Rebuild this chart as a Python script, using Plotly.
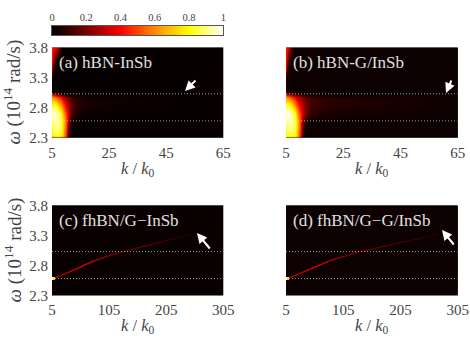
import plotly.graph_objects as go
from plotly.colors import sample_colorscale

HOT = [[0, "#000000"], [0.2, "#7a0000"], [0.4, "#ff0000"], [0.6, "#ff8c00"],
       [0.8, "#ffff00"], [1, "#ffffff"]]
SERIF = "Liberation Serif"
TEXT = "#444444"

cbar_values = [0, 0.05, 0.1, 0.15, 0.2, 0.25, 0.3, 0.35, 0.4, 0.45, 0.5, 0.55, 0.6, 0.65,
               0.7, 0.75, 0.8, 0.85, 0.9, 0.95, 1]
cbar_ticks = [0, 0.2, 0.4, 0.6, 0.8, 1]

k_top = [5, 5.5, 6, 7, 8, 9, 10, 11, 12, 14, 17, 25, 40, 52, 65]
w_top = [2.3, 2.36, 2.45, 2.55, 2.62, 2.7, 2.8, 2.9, 2.97, 3.0, 3.05, 3.3, 3.45, 3.6, 3.8]

# rows run from the lowest frequency up
z_a = [
    [.62, .66, .68, .68, .66, .58, .36, .03, .01, .01, .01, .01, .01, .01, .01],
    [.78, .82, .84, .84, .80, .70, .46, .05, .01, .01, .01, .01, .01, .01, .01],
    [.84, .88, .90, .90, .84, .72, .50, .08, .02, .01, .01, .01, .01, .01, .01],
    [.86, .90, .92, .92, .84, .72, .52, .14, .03, .01, .01, .01, .01, .01, .01],
    [.90, .94, .96, .94, .84, .72, .52, .24, .06, .02, .01, .01, .01, .01, .01],
    [.94, .96, .97, .92, .80, .66, .48, .27, .10, .04, .015, .012, .01, .01, .01],
    [.86, .88, .88, .78, .68, .56, .40, .25, .13, .06, .035, .02, .015, .01, .01],
    [.72, .72, .72, .62, .54, .44, .32, .20, .12, .06, .04, .03, .02, .012, .01],
    [.62, .60, .58, .50, .42, .32, .24, .15, .09, .05, .03, .022, .015, .01, .01],
    [.50, .46, .42, .32, .22, .14, .09, .05, .03, .02, .015, .012, .01, .01, .01],
    [.03, .025, .02, .015, .012, .01, .01, .01, .01, .01, .01, .01, .01, .01, .01],
    [.02, .015, .012, .01, .01, .01, .01, .01, .01, .01, .01, .01, .01, .01, .01],
    [.28, .06, .01, .01, .01, .01, .01, .01, .01, .01, .01, .01, .01, .01, .01],
    [.40, .30, .10, .01, .01, .01, .01, .01, .01, .01, .01, .01, .01, .01, .01],
    [.44, .42, .38, .28, .02, .01, .01, .01, .01, .01, .01, .01, .01, .01, .01],
]
z_b = [
    [.66, .70, .72, .72, .70, .62, .38, .04, .02, .02, .02, .02, .02, .02, .02],
    [.80, .84, .85, .85, .80, .70, .44, .06, .02, .02, .02, .02, .02, .02, .02],
    [.86, .88, .90, .90, .84, .72, .48, .09, .02, .02, .02, .02, .02, .02, .02],
    [.88, .92, .93, .92, .84, .72, .50, .15, .04, .02, .02, .02, .02, .02, .02],
    [.92, .96, .97, .94, .84, .70, .50, .25, .09, .04, .03, .025, .02, .02, .02],
    [.96, .98, .98, .92, .80, .64, .48, .30, .15, .07, .05, .035, .03, .02, .02],
    [.88, .88, .88, .78, .66, .54, .40, .28, .18, .10, .07, .05, .04, .03, .02],
    [.74, .74, .72, .62, .52, .42, .33, .24, .17, .11, .08, .06, .045, .035, .02],
    [.64, .60, .58, .48, .40, .32, .26, .20, .14, .09, .07, .05, .04, .03, .02],
    [.52, .46, .42, .32, .24, .18, .13, .09, .06, .04, .03, .025, .02, .02, .02],
    [.05, .045, .04, .03, .025, .02, .02, .02, .02, .02, .02, .02, .02, .02, .02],
    [.04, .03, .025, .02, .02, .02, .02, .02, .02, .02, .02, .02, .02, .02, .02],
    [.34, .10, .02, .02, .02, .02, .02, .02, .02, .02, .02, .02, .02, .02, .02],
    [.42, .30, .08, .02, .02, .02, .02, .02, .02, .02, .02, .02, .02, .02, .02],
    [.44, .42, .30, .05, .02, .02, .02, .02, .02, .02, .02, .02, .02, .02, .02],
]

k_bottom = [5, 305]
w_bottom = [2.3, 3.8]
z_c = [[.015, .015], [.015, .015]]
z_d = [[.02, .02], [.02, .02]]

curve_k = [5, 9, 20, 35, 50, 65, 80, 95, 110, 130, 150, 175, 200, 225, 250]
curve_w = [2.58, 2.59, 2.63, 2.69, 2.75, 2.82, 2.88, 2.93, 2.98, 3.03, 3.08, 3.14, 3.2, 3.26, 3.32]
curve_z_c = [.32, .32, .32, .34, .36, .34, .28, .24, .20, .18, .15, .12, .09, .06, .03]
curve_k_d = [5, 9, 20, 35, 50, 65, 80, 95, 110, 130, 160, 190, 220, 250, 275]
curve_w_d = [2.58, 2.59, 2.63, 2.69, 2.75, 2.81, 2.87, 2.92, 2.96, 3.02, 3.08, 3.15, 3.21, 3.27, 3.33]
curve_z_d = [.32, .32, .32, .34, .36, .34, .28, .24, .20, .18, .15, .12, .09, .06, .03]
spot_k = [5, 7, 10]
spot_z = [1, .8, .3]

band_w = [2.58, 3.03]

panels = [
    dict(name="(a) hBN-InSb", k=k_top, w=w_top, z=z_a, ticks=[5, 25, 45, 65], rng=[5, 65],
         box=(52, 223.3, 47.5, 137.7), arrow=(197, 79, 185, 91), label_x=57),
    dict(name="(b) hBN-G/InSb", k=k_top, w=w_top, z=z_b, ticks=[5, 25, 45, 65], rng=[5, 65],
         box=(286, 457.7, 47.5, 137.7), arrow=(452, 79, 446, 93), label_x=291),
    dict(name="(c) fhBN/G−InSb", k=k_bottom, w=w_bottom, z=z_c, ticks=[5, 105, 205, 305], rng=[5, 305],
         box=(52, 223.3, 205.4, 295.4), arrow=(211, 250, 197, 233), label_x=57,
         curve=(curve_k, curve_w, curve_z_c)),
    dict(name="(d) fhBN/G−G/InSb", k=k_bottom, w=w_bottom, z=z_d, ticks=[5, 105, 205, 305], rng=[5, 305],
         box=(286, 457.7, 205.4, 295.4), arrow=(455, 246, 442, 230), label_x=291,
         curve=(curve_k_d, curve_w_d, curve_z_d)),
]

W, H = 470, 346
fig = go.Figure()
annotations = []


def dom_x(a, b):
    return [a / W, b / W]


def dom_y(a, b):
    return [1 - b / H, 1 - a / H]


def add_text(text, px, py, size, color=TEXT, xanchor="center", textangle=0):
    annotations.append(dict(x=px / W, y=1 - py / H, xref="paper", yref="paper", text=text,
                            showarrow=False, xanchor=xanchor, yanchor="middle", textangle=textangle,
                            font=dict(family=SERIF, size=size, color=color)))


for i, p in enumerate(panels, start=1):
    x0, x1, y0, y1 = p["box"]
    xname, yname = f"x{i}", f"y{i}"
    fig.add_trace(go.Heatmap(x=p["k"], y=p["w"], z=p["z"], zmin=0, zmax=1, colorscale=HOT,
                             zsmooth="best", showscale=False, xaxis=xname, yaxis=yname))
    if "curve" in p:
        ck, cw, cz = p["curve"]
        for j in range(len(ck) - 1):
            color = sample_colorscale(HOT, [cz[j]])[0]
            fig.add_trace(go.Scatter(x=ck[j:j + 2], y=cw[j:j + 2], mode="lines",
                                     line=dict(color=color, width=1.3),
                                     showlegend=False, xaxis=xname, yaxis=yname))
        for j in range(len(spot_k) - 1):
            color = sample_colorscale(HOT, [spot_z[j]])[0]
            fig.add_trace(go.Scatter(x=spot_k[j:j + 2], y=[band_w[0], band_w[0]], mode="lines",
                                     line=dict(color=color, width=3),
                                     showlegend=False, xaxis=xname, yaxis=yname))
    for w in band_w:
        fig.add_trace(go.Scatter(x=p["rng"], y=[w, w], mode="lines",
                                 line=dict(color="rgba(255,255,255,0.6)", width=1, dash="1px 2px"),
                                 showlegend=False, xaxis=xname, yaxis=yname))

    left = i % 2 == 1
    fig.update_layout({
        f"xaxis{i}": dict(domain=dom_x(x0, x1), anchor=yname, range=p["rng"], tickvals=p["ticks"],
                          ticks="", showgrid=False, zeroline=False, showline=False, automargin=False,
                          ticklabelstandoff=4, tickfont=dict(family=SERIF, size=15, color=TEXT)),
        f"yaxis{i}": dict(domain=dom_y(y0, y1), anchor=xname, range=[2.3, 3.8],
                          tickvals=[2.3, 2.8, 3.3, 3.8], ticktext=["2.3", "2.8", "3.3", "3.8"],
                          showticklabels=left, ticks="", showgrid=False, zeroline=False, showline=False,
                          automargin=False, ticklabelstandoff=3,
                          tickfont=dict(family=SERIF, size=15, color=TEXT)),
    })
    add_text(p["name"], p["label_x"], y0 + 15, 17, color="#e0e0e0", xanchor="left")
    add_text("<i>k</i> / <i>k</i><sub>0</sub>", (x0 + x1) / 2, y1 + 31, 16.5)
    if left:
        add_text("<i>ω</i> (10<sup>14</sup> rad/s)", 13, (y0 + y1) / 2, 19, textangle=-90)
    tx, ty, hx, hy = p["arrow"]
    annotations.append(dict(x=hx / W, y=1 - hy / H, ax=tx - hx, ay=ty - hy, xref="paper", yref="paper",
                            axref="pixel", ayref="pixel", text="", showarrow=True, arrowhead=2,
                            arrowsize=1, arrowwidth=2, arrowcolor="white"))

# colour bar drawn as its own small heatmap so the labels can sit on top
fig.add_trace(go.Heatmap(x=cbar_values, y=[0, 1], z=[cbar_values, cbar_values], zmin=0, zmax=1,
                         colorscale=HOT, zsmooth="best", showscale=False, xaxis="x5", yaxis="y5"))
fig.update_layout(
    xaxis5=dict(domain=dom_x(52, 223.3), anchor="y5", side="top", range=[0, 1], tickvals=cbar_ticks,
                ticktext=[str(t) for t in cbar_ticks], ticks="", showgrid=False, zeroline=False,
                showline=True, mirror=True, linecolor="#555555", linewidth=1, automargin=False,
                tickfont=dict(family=SERIF, size=10.5, color=TEXT)),
    yaxis5=dict(domain=dom_y(25.7, 35.3), anchor="x5", range=[0, 1], showticklabels=False, ticks="",
                showgrid=False, zeroline=False, showline=True, mirror=True,
                linecolor="#555555", linewidth=1, automargin=False),
    width=W,
    height=H,
    margin=dict(l=0, r=0, t=0, b=0),
    paper_bgcolor="white",
    plot_bgcolor="black",
    showlegend=False,
    annotations=annotations,
)

fig.write_html("out.html", config={"displayModeBar": False},
               post_script="document.body.style.margin='0';")
